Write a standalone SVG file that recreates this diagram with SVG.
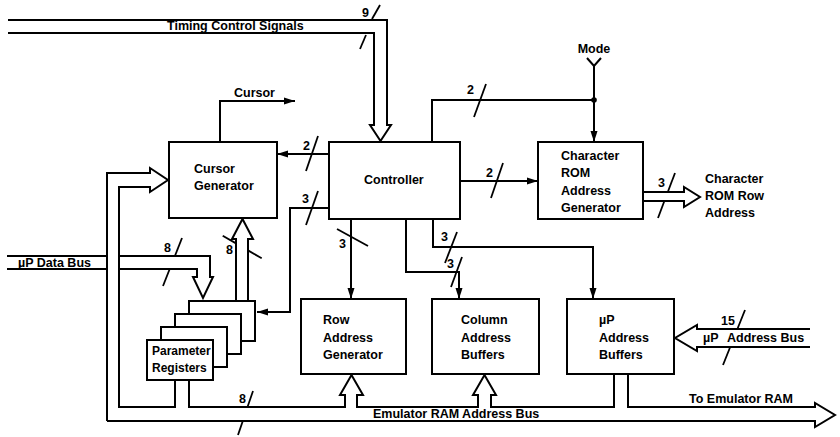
<svg xmlns="http://www.w3.org/2000/svg" width="840" height="437" viewBox="0 0 840 437">
<style>
.ln{fill:none;stroke:#000;stroke-width:2;stroke-linejoin:miter}
.sl{fill:none;stroke:#000;stroke-width:1.8}
.box{fill:#fff;stroke:#000;stroke-width:2}
.t{font-family:"Liberation Sans",Arial,Helvetica,sans-serif;font-weight:bold;font-size:12.5px;fill:#000}
.ts{font-size:12px}
</style>
<defs>
<marker id="ah" markerWidth="12" markerHeight="8" refX="11" refY="4" orient="auto" markerUnits="userSpaceOnUse">
<path d="M0,0.5 L11,4 L0,7.5 z" fill="#000"/>
</marker>
</defs>
<rect width="840" height="437" fill="#fff"/>

<g id="connectors">
  <!-- Timing control signals bus -->
  <path class="ln" d="M8,20 H387 V125 H391 L380.5,141 L370,125 H374 V33 H8"/>
  <line class="sl" x1="372" y1="19" x2="380" y2="5"/>
  <line class="sl" x1="360" y1="49" x2="366" y2="35"/>
  <text class="t" x="362" y="17">9</text>
  <text class="t" x="167" y="30">Timing Control Signals</text>

  <!-- Mode -->
  <text class="t" x="594" y="53" text-anchor="middle">Mode</text>
  <path class="ln" d="M587,58 L594,66 L601,58"/>
  <path class="ln" d="M594,66 V142" marker-end="url(#ah)"/>
  <path class="ln" d="M432,142 V100 H594"/>
  <circle cx="594" cy="100" r="2.8" fill="#000"/>
  <line class="sl" x1="474" y1="117" x2="486" y2="84"/>
  <text class="t" x="467" y="94">2</text>

  <!-- Cursor output -->
  <path class="ln" d="M220,142 V101 H295" marker-end="url(#ah)"/>
  <text class="t" x="234" y="97">Cursor</text>

  <!-- Controller to Cursor Generator -->
  <path class="ln" d="M329,154 H277" marker-end="url(#ah)"/>
  <line class="sl" x1="306" y1="171" x2="318" y2="136"/>
  <text class="t" x="303" y="150">2</text>

  <!-- Controller to Char ROM -->
  <path class="ln" d="M460,181 H538" marker-end="url(#ah)"/>
  <line class="sl" x1="491" y1="198" x2="503" y2="163"/>
  <text class="t" x="486" y="177">2</text>

  <!-- Character ROM Row Address output -->
  <path class="ln" d="M643,192 H684 V187 L700,197 L684,207 V201 H643"/>
  <line class="sl" x1="658" y1="218" x2="664.4" y2="201"/>
  <line class="sl" x1="667.8" y1="192" x2="675" y2="173"/>
  <text class="t" x="658" y="187">3</text>
  <text class="t" x="705" y="183">Character</text>
  <text class="t" x="705" y="200">ROM Row</text>
  <text class="t" x="705" y="216.5">Address</text>

  <!-- Controller to Parameter Registers -->
  <path class="ln" d="M329,208 H290 V312 H257" marker-end="url(#ah)"/>
  <line class="sl" x1="306" y1="225" x2="318" y2="191"/>
  <text class="t" x="302" y="203">3</text>

  <!-- Controller to Row Address Generator -->
  <path class="ln" d="M351,219 V299" marker-end="url(#ah)"/>
  <line class="sl" x1="337" y1="229" x2="368" y2="246"/>
  <text class="t" x="339" y="248">3</text>

  <!-- Controller to Column Address Buffers -->
  <path class="ln" d="M406,219 V272 H459 V299" marker-end="url(#ah)"/>
  <line class="sl" x1="451" y1="287" x2="462" y2="257"/>
  <text class="t" x="447" y="268">3</text>

  <!-- Controller to uP Address Buffers -->
  <path class="ln" d="M433,219 V247 H593 V299" marker-end="url(#ah)"/>
  <line class="sl" x1="445" y1="263" x2="457" y2="232"/>
  <text class="t" x="441" y="241">3</text>

  <!-- uP Address Bus -->
  <path class="ln" d="M810,329 H697 V325 L675,338 L697,351 V347 H810"/>
  <line class="sl" x1="723" y1="365" x2="730.2" y2="347"/>
  <line class="sl" x1="737.4" y1="329" x2="745" y2="310"/>
  <text class="t" x="721" y="325">15</text>
  <text class="t" x="703" y="342">µP</text>
  <text class="t" x="727" y="342">Address Bus</text>

  <!-- uP Data Bus -->
  <path class="ln" d="M7,256 H107 M7,269 H107"/>
  <path class="ln" d="M119,256 H210 V277 H213 L203,298 L193,277 H197 V269 H119"/>
  <line class="sl" x1="163" y1="286" x2="169.7" y2="269"/>
  <line class="sl" x1="174.9" y1="256" x2="182" y2="238"/>
  <text class="t" x="164" y="252">8</text>
  <text class="t" x="18" y="267">µP Data Bus</text>

  <!-- Parameter Registers to Cursor Generator -->
  <path class="ln" d="M236,301 V239 H232 L242.5,219 L253,239 H248 V301"/>
  <line class="sl" x1="222.7" y1="235.7" x2="236" y2="243.4"/>
  <line class="sl" x1="248" y1="250.4" x2="261.7" y2="258.3"/>
  <text class="t" x="226" y="254">8</text>

  <!-- Emulator RAM Address Bus -->
  <path class="ln" d="M107,421 V173 H150 V168 L168,180 L150,192 V187 H119 V407 H175 V380"/>
  <path class="ln" d="M107,421 H815 V427 L835,415 L815,403 V407 H628 V374"/>
  <path class="ln" d="M189,380 V407 H345 V395 H340 L351.5,375 L363,395 H357 V407 H478 V395 H473 L484.5,375 L496,395 H491 V407 H614 V374"/>
  <line class="sl" x1="238" y1="435" x2="242.8" y2="421"/>
  <line class="sl" x1="247.5" y1="407" x2="253" y2="391"/>
  <text class="t" x="239" y="403">8</text>
  <text class="t" x="373" y="418">Emulator RAM Address Bus</text>
  <text class="t" x="689" y="403">To Emulator RAM</text>
</g>

<g id="cursor-generator">
  <rect class="box" x="169" y="142" width="108" height="76"/>
  <text class="t" x="194" y="173">Cursor</text>
  <text class="t" x="194" y="190">Generator</text>
</g>

<g id="controller">
  <rect class="box" x="329" y="142" width="131" height="77"/>
  <text class="t" x="364" y="184">Controller</text>
</g>

<g id="char-rom-address-generator">
  <rect class="box" x="538" y="142" width="105" height="77"/>
  <text class="t" x="561" y="160">Character</text>
  <text class="t" x="561" y="177">ROM</text>
  <text class="t" x="561" y="195">Address</text>
  <text class="t" x="561" y="212">Generator</text>
</g>

<g id="row-address-generator">
  <rect class="box" x="301" y="299" width="105" height="75"/>
  <text class="t" x="323" y="324">Row</text>
  <text class="t" x="323" y="341.5">Address</text>
  <text class="t" x="323" y="359">Generator</text>
</g>

<g id="column-address-buffers">
  <rect class="box" x="432" y="299" width="107" height="75"/>
  <text class="t" x="461" y="324">Column</text>
  <text class="t" x="461" y="341.5">Address</text>
  <text class="t" x="461" y="359">Buffers</text>
</g>

<g id="up-address-buffers">
  <rect class="box" x="567" y="299" width="107" height="75"/>
  <text class="t" x="599" y="324">µP</text>
  <text class="t" x="599" y="341.5">Address</text>
  <text class="t" x="599" y="359">Buffers</text>
</g>

<g id="parameter-registers">
  <rect class="box" x="189" y="301" width="66" height="40"/>
  <rect class="box" x="175" y="314" width="66" height="40"/>
  <rect class="box" x="161" y="327" width="66" height="40"/>
  <rect class="box" x="147" y="340" width="66" height="40"/>
  <text class="t ts" x="152" y="355">Parameter</text>
  <text class="t ts" x="152" y="372">Registers</text>
</g>
</svg>
